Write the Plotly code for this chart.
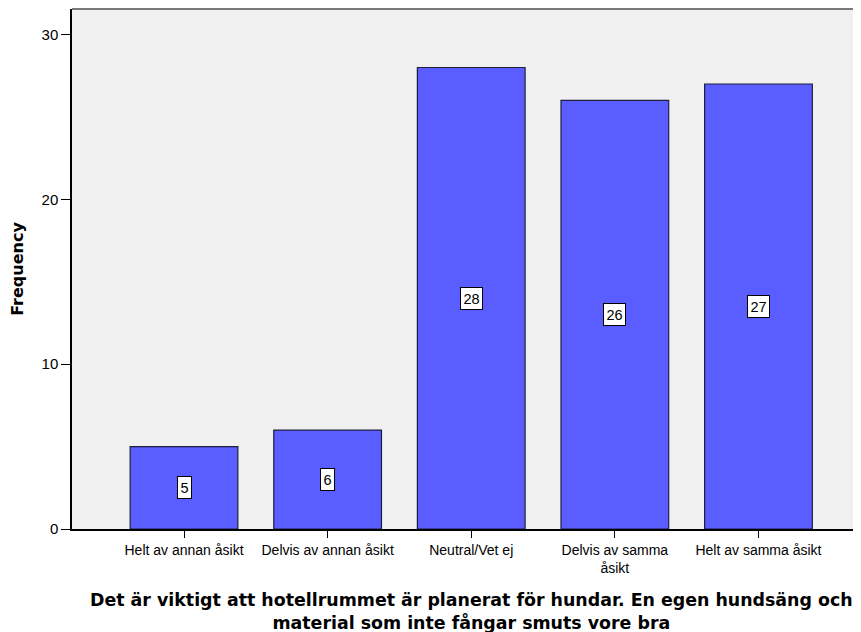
import plotly.graph_objects as go

categories = ["Helt av annan åsikt", "Delvis av annan åsikt", "Neutral/Vet ej",
              "Delvis av samma<br>åsikt", "Helt av samma åsikt"]
frequencies = [5, 6, 28, 26, 27]
y_ticks = [0, 10, 20, 30]
x_title = "Det är viktigt att hotellrummet är planerat för hundar. En egen hundsäng och<br>material som inte fångar smuts vore bra"
y_title = "Frequency"

positions = list(range(len(categories)))

# page body has an 8px margin, so the figure is sized to fill the rest of the window
fig = go.Figure()
fig.add_trace(go.Bar(
    x=positions, y=frequencies,
    marker=dict(color="#5A5DFF", line=dict(color="#1E1E3A", width=1.2)),
    width=0.75, hoverinfo="skip",
))

for p, v in zip(positions, frequencies):
    fig.add_annotation(x=p, y=v / 2, text=str(v), showarrow=False,
                       font=dict(family="Liberation Sans, Arial", size=14.5, color="black"),
                       bgcolor="white", bordercolor="black", borderwidth=1, borderpad=2.5)

fig.add_annotation(xref="paper", yref="paper", x=0.506, y=-0.114, xanchor="center", yanchor="top",
                   text=x_title, showarrow=False,
                   font=dict(family="DejaVu Sans", size=17.4, color="black", weight="bold"))

fig.add_shape(type="line", xref="paper", yref="paper", x0=0, x1=1.02, y0=1, y1=1,
              line=dict(color="#7A7A7A", width=2))

fig.update_layout(
    width=853, height=624,
    margin=dict(l=64, r=0, t=1, b=102.5),
    paper_bgcolor="white", plot_bgcolor="#F0F0F0",
    showlegend=False,
    font=dict(family="Liberation Sans, Arial", color="black"),
    xaxis=dict(range=[-0.78, 4.714], tickmode="array", tickvals=positions, ticktext=categories,
               ticks="outside", ticklen=7, tickcolor="black", tickwidth=1,
               showline=True, linecolor="black", linewidth=1.5, showgrid=False, zeroline=False,
               tickfont=dict(size=14, family="Liberation Sans, Arial"), tickangle=0),
    yaxis=dict(range=[0, 31.55], tickmode="array", tickvals=y_ticks,
               ticks="outside", ticklen=9, tickcolor="black", tickwidth=1,
               showline=True, linecolor="black", linewidth=1.5, showgrid=False, zeroline=False,
               tickfont=dict(size=15, family="Liberation Sans, Arial"),
               title=dict(text=y_title, standoff=16,
                          font=dict(size=16, family="DejaVu Sans", weight="bold"))),
)

fig.write_html("out.html")
